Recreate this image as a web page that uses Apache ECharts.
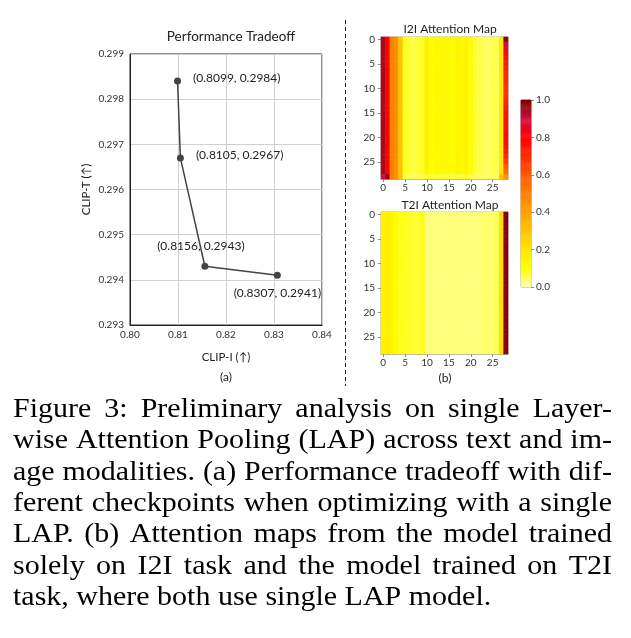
<!DOCTYPE html>
<html><head><meta charset="utf-8">
<script src="https://cdn.jsdelivr.net/npm/echarts@6/dist/echarts.min.js"></script>
<style>html,body{margin:0;padding:0;background:#fff}#c{width:631px;height:638px}</style>
</head><body><div id="c"></div>
<script>
// ---- (a) Performance tradeoff ----
const clipI = [0.8099, 0.8105, 0.8156, 0.8307];
const clipT = [0.2984, 0.2967, 0.2943, 0.2941];
const pointLabels = ['(0.8099, 0.2984)', '(0.8105, 0.2967)', '(0.8156, 0.2943)', '(0.8307, 0.2941)'];
const xRange = [0.80, 0.84];
const yRange = [0.293, 0.299];

// ---- (b) Attention maps (29 x 29 tokens) ----
const tokenIdx = [0,1,2,3,4,5,6,7,8,9,10,11,12,13,14,15,16,17,18,19,20,21,22,23,24,25,26,27,28];
// typical row of the I2I map, per column
const i2iCols = [0.95,0.80,0.50,0.45,0.30,0.08,0.07,0.06,0.07,0.08,0.16,0.10,0.12,0.13,0.13,0.12,0.11,0.14,0.13,0.15,0.11,0.07,0.06,0.05,0.04,0.06,0.05,0.18,0.72];
// last column (token 28) of the I2I map, per row
const i2iLastCol = [0.99,0.88,0.86,0.78,0.76,0.74,0.72,0.70,0.70,0.70,0.68,0.68,0.70,0.72,0.74,0.76,0.76,0.76,0.76,0.78,0.78,0.78,0.76,0.74,0.70,0.66,0.60,0.55,0.45];
// last row (token 28) of the I2I map, per column
const i2iLastRow = [0.90,0.97,0.50,0.45,0.30,0.06,0.05,0.05,0.05,0.06,0.08,0.06,0.07,0.07,0.07,0.07,0.06,0.07,0.07,0.08,0.06,0.05,0.05,0.04,0.04,0.05,0.05,0.30,0.45];
// typical row of the T2I map, per column
const t2iCols = [0.15,0.16,0.14,0.11,0.09,0.08,0.08,0.07,0.07,0.09,0.03,0.03,0.03,0.03,0.03,0.03,0.03,0.03,0.03,0.03,0.03,0.03,0.03,0.04,0.04,0.04,0.05,0.22,0.99];
const colorbarTicks = [0.0, 0.2, 0.4, 0.6, 0.8, 1.0];
const heatColors = ['#ffffb0','#ffff00','#ffe600','#ffc400','#ffa000','#ff8000','#ff5a00','#ff2a00','#ff0000','#d0103a','#800000'];

function buildMap(rowFn) {
  const out = [];
  tokenIdx.forEach(r => tokenIdx.forEach(c => out.push([c, r, rowFn(r, c)])));
  return out;
}
const i2iData = buildMap((r, c) => r === 28 ? i2iLastRow[c] : (c === 28 ? i2iLastCol[r] : i2iCols[c]));
const t2iData = buildMap((r, c) => t2iCols[c]);
const cbLevels = [];
for (let i = 0; i < 200; i++) cbLevels.push(i);
const cbData = cbLevels.map(i => [0, i, i / 199]);

const FONT = 'Lato';
const labelColor = '#222';

const heatX = (gi) => ({
  gridIndex: gi, type: 'category', data: tokenIdx,
  axisLine: { show: true, lineStyle: { color: '#aaa', width: 1 } },
  axisTick: { show: true, alignWithLabel: true, interval: 4, length: 3, lineStyle: { color: '#888' } },
  axisLabel: { interval: 4, fontSize: 10, color: '#333', fontFamily: FONT, margin: 4 },
  splitLine: { show: false }
});
const heatY = (gi) => ({
  gridIndex: gi, type: 'category', data: tokenIdx, inverse: true,
  axisLine: { show: true, lineStyle: { color: '#aaa', width: 1 } },
  axisTick: { show: true, alignWithLabel: true, interval: 4, length: 3, lineStyle: { color: '#888' } },
  axisLabel: { interval: 4, fontSize: 10, color: '#333', fontFamily: FONT, margin: 6 },
  splitLine: { show: false }
});

// ---- caption (justified) ----
const captionLines = [
  'Figure 3: Preliminary analysis on single Layer-',
  'wise Attention Pooling (LAP) across text and im-',
  'age modalities. (a) Performance tradeoff with dif-',
  'ferent checkpoints when optimizing with a single',
  'LAP. (b) Attention maps from the model trained',
  'solely on I2I task and the model trained on T2I',
  'task, where both use single LAP model.'
];
const capSize = 30;
const capScaleY = 0.88;
const capFontCss = capSize + 'px "Liberation Serif"';
const capLeft = 13, capRight = 612, capBase0 = 418, capGap = 31.3;
const mctx = document.createElement('canvas').getContext('2d');
mctx.font = capFontCss;
const graphics = [];
captionLines.forEach((line, li) => {
  const words = line.split(' ');
  const ws = words.map(w => mctx.measureText(w).width);
  const tot = ws.reduce((a, b) => a + b, 0);
  const last = li === captionLines.length - 1;
  const gap = last ? mctx.measureText(' ').width : (capRight - capLeft - tot) / (words.length - 1);
  let x = capLeft;
  words.forEach((w, i) => {
    graphics.push({ type: 'text', x: x, y: capBase0 + li * capGap - 0.3 * capSize * capScaleY,
      scaleY: capScaleY,
      style: { text: w, font: capFontCss, fill: '#000', align: 'left', verticalAlign: 'middle' } });
    x += ws[i] + gap;
  });
});
graphics.push({ type: 'line', shape: { x1: 345.5, y1: 20, x2: 345.5, y2: 386 },
  style: { stroke: '#222', lineWidth: 1, lineDash: [4, 3] } });
graphics.push({ type: 'text', x: 226, y: 377, style: { text: '(a)', font: '12px ' + FONT, fill: labelColor, align: 'center', verticalAlign: 'middle' } });
graphics.push({ type: 'text', x: 445, y: 378, style: { text: '(b)', font: '12px ' + FONT, fill: labelColor, align: 'center', verticalAlign: 'middle' } });

const chart = echarts.init(document.getElementById('c'), null, { renderer: 'canvas' });
chart.setOption({
  animation: false,
  backgroundColor: '#fff',
  textStyle: { fontFamily: FONT },
  title: [
    { text: 'Performance Tradeoff', left: 226, top: 25, textAlign: 'center', textStyle: { fontSize: 13.5, fontWeight: 'normal', color: labelColor, fontFamily: FONT } },
    { text: 'I2I Attention Map', left: 445, top: 18, textAlign: 'center', textStyle: { fontSize: 12, fontWeight: 'normal', color: labelColor, fontFamily: FONT } },
    { text: 'T2I Attention Map', left: 445, top: 194, textAlign: 'center', textStyle: { fontSize: 12, fontWeight: 'normal', color: labelColor, fontFamily: FONT } }
  ],
  grid: [
    { left: 130, top: 54, width: 192, height: 271, show: true, borderColor: '#222', borderWidth: 1, backgroundColor: 'transparent' },
    { left: 381, top: 37, width: 127, height: 142, show: true, borderColor: '#aaa', borderWidth: 1 },
    { left: 381, top: 212, width: 127, height: 142, show: true, borderColor: '#aaa', borderWidth: 1 },
    { left: 521, top: 100, width: 10, height: 187, show: true, borderColor: '#999', borderWidth: 1 }
  ],
  xAxis: [
    { gridIndex: 0, type: 'value', min: xRange[0], max: xRange[1], interval: 0.01,
      name: 'CLIP-I (↑)', nameLocation: 'middle', nameGap: 26, nameTextStyle: { fontSize: 11.5, color: labelColor, fontFamily: FONT },
      axisLine: { show: true, lineStyle: { color: '#222' } }, axisTick: { show: false },
      axisLabel: { fontSize: 10, color: '#333', fontFamily: FONT, margin: 5, formatter: v => v.toFixed(2) },
      splitLine: { show: true, lineStyle: { color: '#cfcfcf', width: 1 } } },
    heatX(1), heatX(2),
    { gridIndex: 3, type: 'category', data: [0], show: false }
  ],
  yAxis: [
    { gridIndex: 0, type: 'value', min: yRange[0], max: yRange[1], interval: 0.001,
      name: 'CLIP-T (↑)', nameLocation: 'middle', nameGap: 38, nameTextStyle: { fontSize: 11.5, color: labelColor, fontFamily: FONT },
      axisLine: { show: true, lineStyle: { color: '#222' } }, axisTick: { show: false },
      axisLabel: { fontSize: 10, color: '#333', fontFamily: FONT, margin: 6, formatter: v => v.toFixed(3) },
      splitLine: { show: true, lineStyle: { color: '#cfcfcf', width: 1 } } },
    heatY(1), heatY(2),
    { gridIndex: 3, type: 'category', data: cbLevels, show: false },
    { gridIndex: 3, type: 'value', min: 0, max: 1, interval: 0.2, position: 'right',
      axisLine: { show: false }, axisTick: { show: true, length: 3, lineStyle: { color: '#888' } },
      axisLabel: { fontSize: 10, color: '#333', fontFamily: FONT, margin: 5, formatter: v => v.toFixed(1) },
      splitLine: { show: false } }
  ],
  visualMap: {
    type: 'continuous', min: 0, max: 1, show: false, seriesIndex: [1, 2, 3],
    inRange: { color: heatColors }
  },
  series: [
    { type: 'line', xAxisIndex: 0, yAxisIndex: 0,
      data: clipI.map((x, i) => ({ value: [x, clipT[i]], label: {
        show: true, formatter: pointLabels[i], fontSize: 12, color: labelColor, fontFamily: FONT,
        position: i < 2 ? 'right' : (i === 2 ? 'top' : 'bottom'),
        distance: i < 2 ? 12 : (i === 2 ? 11 : 8),
        offset: i < 2 ? [0, -3] : (i === 2 ? [-4, 0] : [0, 0]) } })),
      symbol: 'circle', symbolSize: 7,
      itemStyle: { color: '#444' }, lineStyle: { color: '#444', width: 1.5 } },
    { type: 'heatmap', xAxisIndex: 1, yAxisIndex: 1, data: i2iData },
    { type: 'heatmap', xAxisIndex: 2, yAxisIndex: 2, data: t2iData },
    { type: 'heatmap', xAxisIndex: 3, yAxisIndex: 3, data: cbData }
  ],
  graphic: graphics
});
</script></body></html>
